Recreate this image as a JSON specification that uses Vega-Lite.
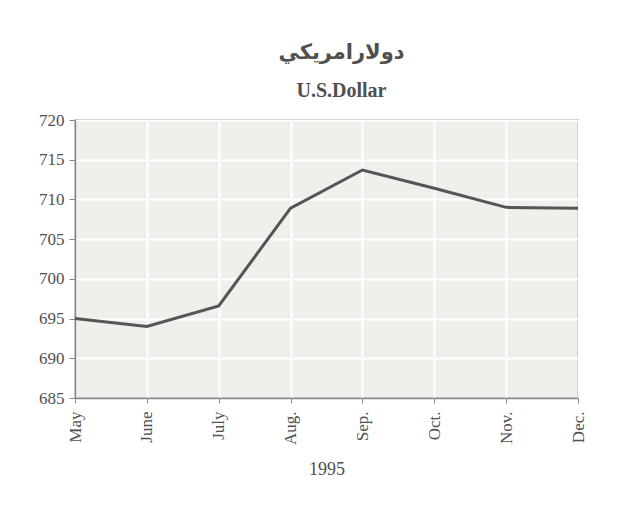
{
  "$schema": "https://vega.github.io/schema/vega-lite/v6.json",
  "width": 503,
  "height": 278,
  "autosize": {"type": "none"},
  "padding": {"left": 75, "top": 120, "right": 59, "bottom": 122},
  "background": "#ffffff",
  "title": {
    "text": "دولارامريكي",
    "subtitle": "U.S.Dollar",
    "anchor": "middle",
    "font": "DejaVu Sans",
    "fontSize": 21,
    "fontWeight": "bold",
    "color": "#505050",
    "subtitleFont": "Liberation Serif",
    "subtitleFontSize": 20,
    "subtitleFontWeight": "bold",
    "subtitleColor": "#505050",
    "subtitlePadding": 18,
    "offset": 10,
    "dx": 15
  },
  "data": {
    "values": [
      {"month": "May", "value": 695.0},
      {"month": "June", "value": 694.0},
      {"month": "July", "value": 696.6},
      {"month": "Aug.", "value": 708.9},
      {"month": "Sep.", "value": 713.7},
      {"month": "Oct.", "value": 711.4},
      {"month": "Nov.", "value": 709.0},
      {"month": "Dec.", "value": 708.9}
    ]
  },
  "mark": {"type": "line", "color": "#555555", "strokeWidth": 3},
  "encoding": {
    "x": {
      "field": "month",
      "type": "ordinal",
      "sort": null,
      "scale": {"type": "point", "padding": 0},
      "axis": {
        "title": "1995",
        "titleFont": "Liberation Serif",
        "titleFontSize": 18,
        "titleFontWeight": "normal",
        "titleColor": "#505050",
        "titlePadding": 16,
        "labelAngle": -90,
        "labelFont": "Liberation Serif",
        "labelFontSize": 17,
        "labelColor": "#505050",
        "labelPadding": 8,
        "grid": true,
        "gridColor": "#ffffff",
        "gridWidth": 2,
        "domainColor": "#888888",
        "domainWidth": 1.5,
        "tickColor": "#888888",
        "tickSize": 5
      }
    },
    "y": {
      "field": "value",
      "type": "quantitative",
      "scale": {"domain": [685, 720], "nice": false, "zero": false},
      "axis": {
        "title": null,
        "values": [685, 690, 695, 700, 705, 710, 715, 720],
        "labelFont": "Liberation Serif",
        "labelFontSize": 17,
        "labelColor": "#505050",
        "labelPadding": 5,
        "grid": true,
        "gridColor": "#ffffff",
        "gridWidth": 2,
        "domainColor": "#888888",
        "domainWidth": 1.5,
        "tickColor": "#888888",
        "tickSize": 6
      }
    }
  },
  "config": {
    "view": {"fill": "#eef0ec", "stroke": "#888888", "strokeWidth": 1.5}
  }
}
